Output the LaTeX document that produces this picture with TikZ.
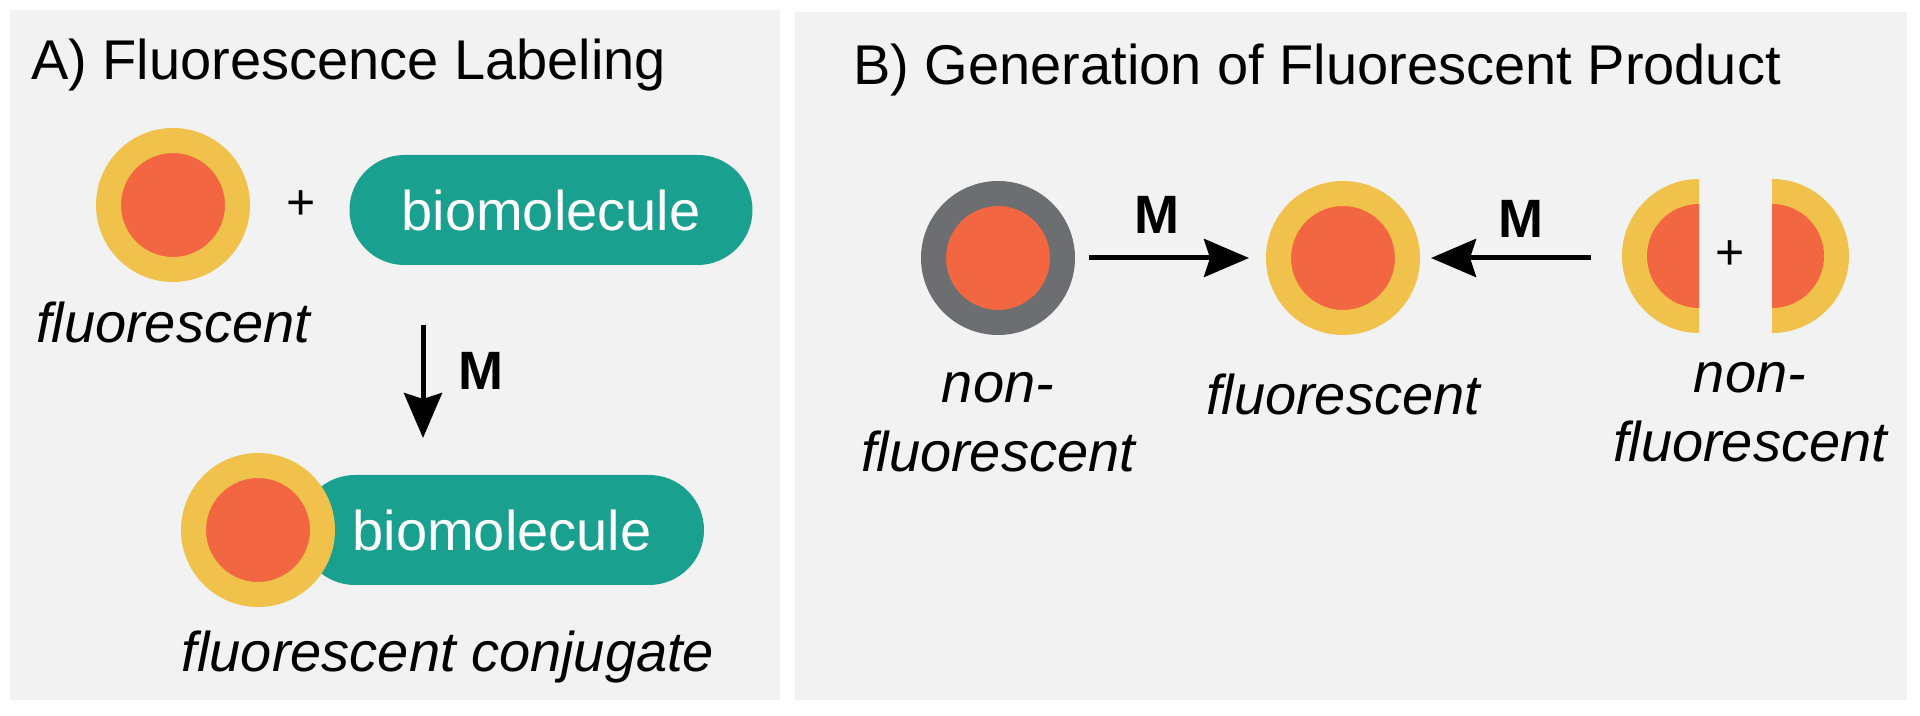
\documentclass[tikz,border=0pt]{standalone}
\usepackage{fontspec}
\setmainfont{Liberation Sans}
\usetikzlibrary{positioning,calc,arrows.meta}

\definecolor{ringyellow}{HTML}{F0C24C}
\definecolor{coreorange}{HTML}{F26641}
\definecolor{bioteal}{HTML}{19A08F}
\definecolor{ringgray}{HTML}{6D6E72}
\definecolor{panelgray}{HTML}{F2F2F2}

\tikzset{
  dye/.style={circle, draw=ringyellow, line width=25pt, fill=coreorange,
    minimum size=129pt, inner sep=0pt},
  quenched/.style={dye, draw=ringgray},
  pill/.style={rectangle, rounded corners=55pt, fill=bioteal, text=white,
    minimum height=110pt, inner sep=0pt, font=\fontsize{56}{60}\selectfont},
  lbl/.style={inner sep=0pt, align=center, font=\fontsize{56}{69}\selectfont\itshape},
  ttl/.style={inner sep=0pt, anchor=base west, font=\fontsize{56}{60}\selectfont},
  cond/.style={inner sep=0pt, font=\fontsize{54}{60}\selectfont\bfseries},
  plus/.style={inner sep=0pt, font=\fontsize{50}{60}\selectfont},
  rxn/.style={-{Stealth[length=45pt, width=38pt, inset=6pt]}, line width=5pt},
}

\begin{document}
\begin{tikzpicture}[x=1pt, y=1pt]
  \fill[white] (0,0) rectangle (1920,715);
  \useasboundingbox (0,0) rectangle (1920,715);
  \fill[panelgray] (10,15) rectangle (780,705);
  \fill[panelgray] (795,15) rectangle (1907,703);

  \node[ttl] (ta) at (31,635) {A) Fluorescence Labeling};
  \node[dye] (d1) at (173,510) {};
  \node[plus] (p1) at (301,510) {+};
  \node[pill, minimum width=403pt] (b1) at (551,505) {biomolecule};
  \node[lbl, below=20pt of d1] (l1) {fluorescent};

  \coordinate (a1) at (423,390);
  \coordinate (a2) at (423,277);
  \draw[rxn] (a1) -- (a2);
  \node[cond] (m1) at (481,344) {M};

  \node[pill, minimum width=404pt] (b2) at (502,185) {biomolecule};
  \node[dye] (d2) at (258,185) {};
  \node[lbl, anchor=base] (l2) at (448,43) {fluorescent conjugate};

  \node[ttl] (tb) at (853,630) {B) Generation of Fluorescent Product};
  \node[quenched] (d3) at (998,457) {};
  \node[dye] (d4) at (1343,457) {};
  \draw[rxn, shorten <=14pt, shorten >=17pt] (d3) -- (d4);
  \node[cond] (m2) at (1157,500) {M};

  \coordinate (h1) at (1699,459);
  \coordinate (h2) at (1772,459);
  \fill[ringyellow] (h1) ++(0,77) arc[start angle=90, end angle=270, radius=77] -- cycle;
  \fill[coreorange] (h1) ++(0,52) arc[start angle=90, end angle=270, radius=52] -- cycle;
  \fill[ringyellow] (h2) ++(0,77) arc[start angle=90, end angle=-90, radius=77] -- cycle;
  \fill[coreorange] (h2) ++(0,52) arc[start angle=90, end angle=-90, radius=52] -- cycle;
  \node[plus] (p2) at (1730,460) {+};

  \coordinate (s2) at (1591,457);
  \draw[rxn, shorten >=11pt] (s2) -- (d4);
  \node[cond] (m3) at (1521,496) {M};

  \node[lbl, below=37pt of d3] (l3) {non-\\fluorescent};
  \node[lbl, below=39pt of d4] (l4) {fluorescent};
  \node[lbl, anchor=north] (l5) at (1750,353) {non-\\fluorescent};
\end{tikzpicture}
\end{document}
